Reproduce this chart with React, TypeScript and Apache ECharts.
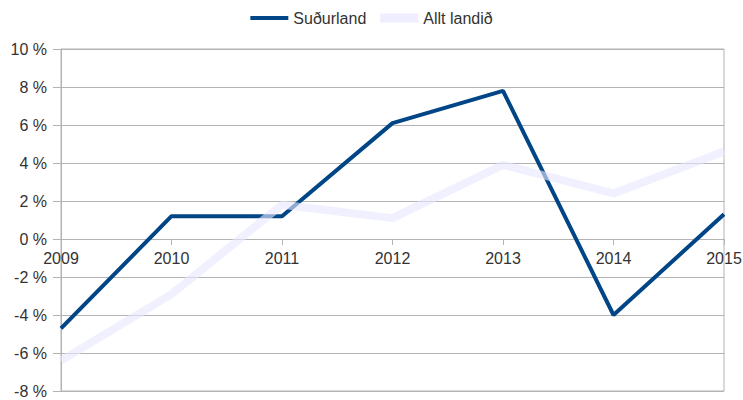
import React, { useEffect, useRef } from "react";
import * as echarts from "echarts";

const years = ["2009", "2010", "2011", "2012", "2013", "2014", "2015"];
const sudurland = [-4.7, 1.2, 1.2, 6.1, 7.8, -4.0, 1.3];
const alltLandid = [-6.4, -2.9, 1.8, 1.1, 3.9, 2.4, 4.6];
const seriesNames = ["Suðurland", "Allt landið"];

export default function App() {
  const ref = useRef<HTMLDivElement>(null);
  useEffect(() => {
    document.body.style.margin = "0";
    const chart = echarts.init(ref.current!, undefined, { renderer: "svg" });
    const font = "'Liberation Sans', Arial, sans-serif";
    chart.setOption({
      animation: false,
      backgroundColor: "#ffffff",
      textStyle: { fontFamily: font },
      legend: {
        top: 5,
        left: "center",
        itemWidth: 38,
        itemHeight: 9,
        itemGap: 14,
        symbolKeepAspect: true,
        textStyle: { fontFamily: font, fontSize: 16, color: "#333333" },
        data: [
          { name: seriesNames[0], icon: "path://M0,0H38V4H0Z" },
          { name: seriesNames[1], icon: "rect" },
        ],
      },
      grid: {
        left: 61,
        right: 19,
        top: 49,
        bottom: 9,
        show: true,
        borderColor: "#b3b3b3",
        borderWidth: 1,
        outerBoundsMode: "none",
        containLabel: false,
      },
      xAxis: {
        type: "category",
        data: years,
        boundaryGap: false,
        axisLine: { onZero: true, onZeroAxisIndex: 0, lineStyle: { color: "#b3b3b3", width: 1 } },
        axisTick: { show: true, length: 6, lineStyle: { color: "#b3b3b3" } },
        axisLabel: { fontFamily: font, fontSize: 16, color: "#333333", margin: -141, showMinLabel: true, showMaxLabel: true },
        splitLine: { show: false },
      },
      yAxis: {
        type: "value",
        min: -8,
        max: 10,
        interval: 2,
        axisLine: { show: true, lineStyle: { color: "#b3b3b3" } },
        axisTick: { show: true, length: 8, lineStyle: { color: "#b3b3b3" } },
        axisLabel: {
          fontFamily: font,
          fontSize: 16,
          color: "#333333",
          margin: 14,
          formatter: (v: number) => `${v} %`,
        },
        splitLine: { show: true, lineStyle: { color: "#b3b3b3", width: 1 } },
      },
      series: [
        {
          name: seriesNames[0],
          type: "line",
          data: sudurland,
          symbol: "none",
          lineStyle: { color: "#004586", width: 4 },
          itemStyle: { color: "#004586" },
        },
        {
          name: seriesNames[1],
          type: "line",
          data: alltLandid,
          symbol: "none",
          lineStyle: { color: "rgb(230,230,255)", width: 8, opacity: 0.62 },
          itemStyle: { color: "#eeeeff" },
        },
      ],
    });
    return () => chart.dispose();
  }, []);
  return <div ref={ref} style={{ width: 743, height: 400 }} />;
}
